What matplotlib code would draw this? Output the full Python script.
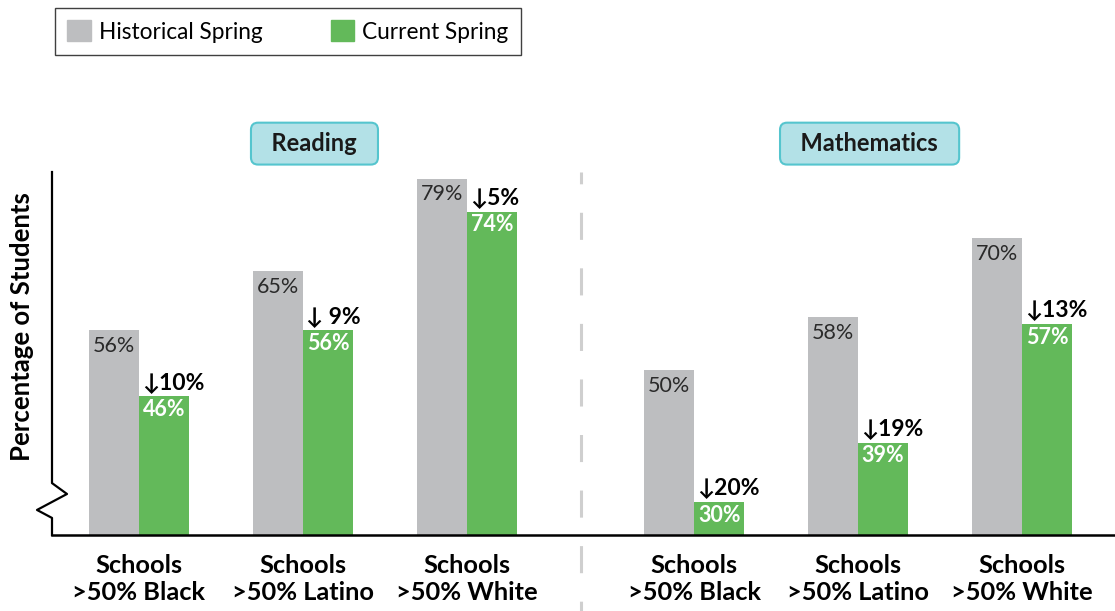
## Historical vs current spring scores by school group, split by subject.

import numpy as np
import matplotlib.pyplot as plt
from matplotlib.patches import Patch

plt.rcParams['font.family'] = ['Lato', 'DejaVu Sans']
plt.rcParams['lines.scale_dashes'] = False

## Data
subjects = ['Reading', 'Mathematics']
groups = ['Schools\n>50% Black', 'Schools\n>50% Latino', 'Schools\n>50% White']
historical = [56, 65, 79, 50, 58, 70]
current = [46, 56, 74, 30, 39, 57]
drops = ['↓10%', '↓ 9%', '↓5%', '↓20%', '↓19%', '↓13%']

grey = '#bdbec0'
green = '#63b95a'

## Positions: three groups per subject, with a wider gap between subjects
subject_gap = 1.384
x = np.concatenate([np.arange(3), np.arange(3) + 3 + (subject_gap - 1)])
w = 0.305

fig = plt.figure(figsize=(11.15, 6.11), dpi=100)
ax = fig.add_axes([52/1115, 76/611, 1063/1115, 363/611])

ax.bar(x, historical, width=-w, align='edge', color=grey)
ax.bar(x, current, width=w, align='edge', color=green)
ax.set_ylim(25, 80)
ax.set_xlim(-0.53, 5.95)

for xi, h, c, d in zip(x, historical, current, drops):
    ax.annotate(f'{h}%', (xi - w/2, h), xytext=(0, -4), textcoords='offset points',
                ha='center', va='top', fontsize=15.5, color='#2a2a2a')
    ax.annotate(f'{c}%', (xi + w/2, c), xytext=(0, -2), textcoords='offset points',
                ha='center', va='top', fontsize=15.5, color='white', fontweight='bold')
    ax.annotate(d, (xi, c), xytext=(2, 2), textcoords='offset points',
                ha='left', va='bottom', fontsize=16.5, color='black', fontweight='bold')

## Axes styling: only baseline and a broken left axis
for s in ['top', 'right', 'left']:
    ax.spines[s].set_visible(False)
ax.spines['bottom'].set_linewidth(1.8)
ax.set_yticks([])
ax.set_xticks(x, groups * 2, fontsize=18.3, fontweight='bold', linespacing=1.2)
ax.tick_params(axis='x', length=0, pad=14)

# left axis with zigzag break
bx = [0, 0, 0.0141, -0.0141, 0, 0]
by = [1, 0.143, 0.113, 0.069, 0.047, 0]
ax.plot(bx, by, color='black', lw=1.6, transform=ax.transAxes, clip_on=False)

# dashed divider between subjects
div = (x[2] + x[3]) / 2
ax.plot([div, div], [1.0, -0.21], color='#cfcfcf', lw=2.2,
        linestyle=(11, (19.5, 20.5)), transform=ax.get_xaxis_transform(), clip_on=False)

# subject headers
for i, name in enumerate(subjects):
    ax.text(x[3*i + 1] + 0.07, 84.3, '  ' + name + '  ', ha='center', va='center',
            fontsize=17, fontweight='bold', color='#1a1a1a',
            bbox=dict(boxstyle='round,pad=0.4,rounding_size=0.3', fc='#b3e1e7', ec='#55c5ce', lw=1.5))

fig.text(22/1115, 1 - 327/611, 'Percentage of Students', rotation=90, ha='center', va='center',
         fontsize=18.5, fontweight='bold')

handles = [Patch(color=grey, label='Historical Spring'), Patch(color=green, label='Current Spring')]
fig.legend(handles=handles, loc='upper left', bbox_to_anchor=(55/1115, 1 - 8/611), ncol=2,
           fontsize=16.3, frameon=True, fancybox=False, edgecolor='#404040', framealpha=1,
           handlelength=1.05, handleheight=1.05, handletextpad=0.35, columnspacing=3.0,
           borderpad=0.55, borderaxespad=0)

plt.savefig('out.png', dpi=100)
